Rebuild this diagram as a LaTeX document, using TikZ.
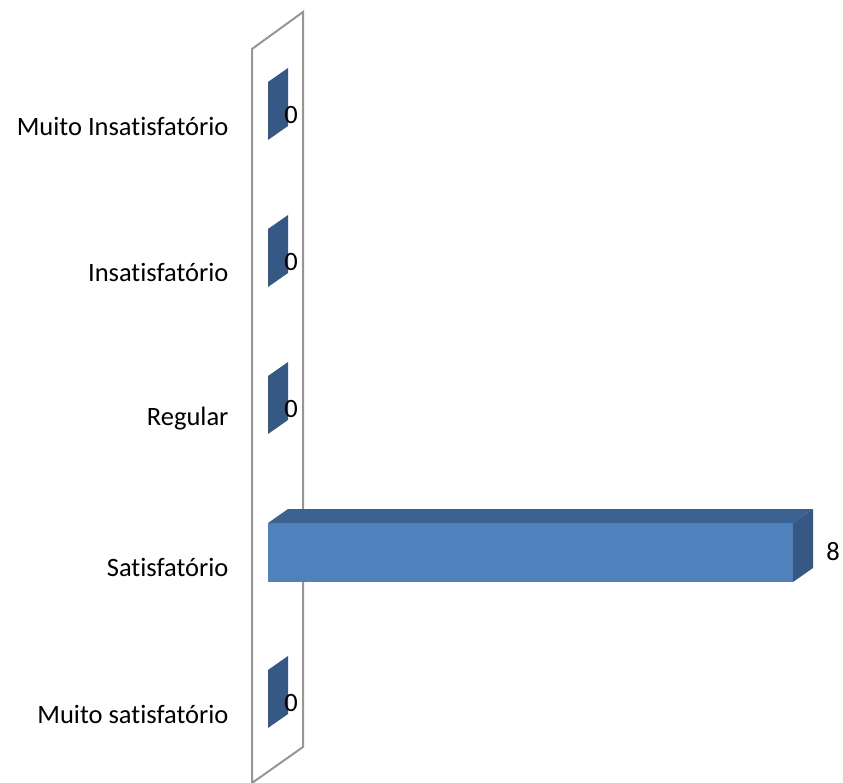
\documentclass[tikz,border=0pt]{standalone}
\usepackage{fontspec}
\setmainfont{Carlito}[Ligatures=NoCommon]
\definecolor{barblue}{RGB}{79,129,189}
\definecolor{bartop}{RGB}{60,98,146}
\definecolor{barside}{RGB}{53,88,132}
\definecolor{wallgray}{RGB}{150,150,150}
\tikzset{
    wall/.style={draw=wallgray, line width=2pt},
    catlabel/.style={anchor=east, font=\fontsize{26.5}{31}\selectfont},
    vallabel/.style={font=\fontsize{26.5}{31}\selectfont},
}

\begin{document}
\begin{tikzpicture}[x=1pt,y=-1pt]
\useasboundingbox (0,0) rectangle (843,783);
% back wall
\draw[wall] (252,783) -- (252,49) -- (303,12) -- (303,747) -- cycle;
% category labels
\foreach \y/\t/\n in {126/Muito Insatisfatório/ma,272/Insatisfatório/in,419/Regular/re,567/Satisfatório/sa,714/Muito satisfatório/ms} {
\node[catlabel] (cat\n) at (232,\y) {\t};
}
% bars with value 0
\foreach \y/\n in {111/ma,258/in,405/re,699/ms} {
\fill[barside] (268,\y-29) -- (268,\y+29) -- (288,\y+15) -- (288,\y-43) -- cycle;
\node[vallabel] (val\n) at (291,\y+4) {0};
}
% bar with value 8
\fill[barblue] (268,523) rectangle (793,582);
\fill[bartop] (268,523) -- (288,509) -- (813,509) -- (793,523) -- cycle;
\fill[barside] (793,523) -- (813,509) -- (813,568) -- (793,582) -- cycle;
\node[vallabel] (valsa) at (833,552) {8};
\end{tikzpicture}
\end{document}
